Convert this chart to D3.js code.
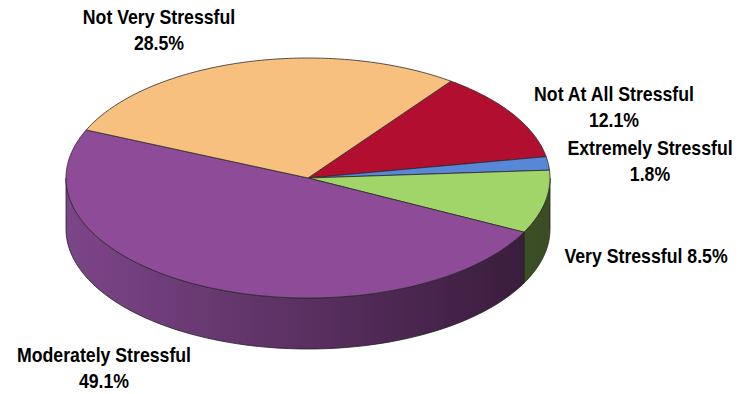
<!DOCTYPE html>
<html><head><meta charset="utf-8">
<script src="https://cdn.jsdelivr.net/npm/d3@7"></script>
<style>body{margin:0;background:#fff}svg{display:block}</style>
</head><body>
<svg id="chart" width="739" height="394"></svg>
<script>
// Data (order clockwise starting at the Not Very / Not At All boundary)
const categories = ["Not At All Stressful", "Extremely Stressful", "Very Stressful", "Moderately Stressful", "Not Very Stressful"];
const values = [12.1, 1.8, 8.5, 49.1, 28.5];
const labelLines = [["Not At All Stressful", "12.1%"], ["Extremely Stressful", "1.8%"], ["Very Stressful 8.5%"], ["Moderately Stressful", "49.1%"], ["Not Very Stressful", "28.5%"]];

const topColors = ["#B20F30", "#5887D8", "#A1D569", "#8E4C98", "#F8C07F"];
const sideLight = ["#7a0a20", "#3b5a92", "#43582A", "#7D4589", "#a9825a"];
const sideDark = ["#5a0718", "#2b4270", "#3A4D24", "#361A38", "#806245"];
const labelPos = [[614, 101], [650, 155], [646, 263], [104, 362], [159, 24]];

const svg = d3.select("#chart");
const cx = 308, cy = 178, rx = 242, ry = 120, depth = 51;
const startAngle = 36.2 * Math.PI / 180;

const pie = d3.pie().sort(null).value(d => d).startAngle(startAngle).endAngle(startAngle + 2 * Math.PI);
const arcs = pie(values);

const px = a => cx + rx * Math.sin(a);
const py = a => cy - ry * Math.cos(a);

const defs = svg.append("defs");
arcs.forEach((d, i) => {
  const g = defs.append("linearGradient").attr("id", "side" + i)
    .attr("gradientUnits", "userSpaceOnUse")
    .attr("x1", cx - rx).attr("x2", cx + rx).attr("y1", 0).attr("y2", 0);
  g.append("stop").attr("offset", "0%").attr("stop-color", sideLight[i]);
  g.append("stop").attr("offset", "100%").attr("stop-color", sideDark[i]);
});

// side walls
const sides = svg.append("g");
arcs.forEach((d, i) => {
  const ranges = [];
  for (let k = -1; k <= 1; k++) {
    const lo = Math.PI / 2 + 2 * Math.PI * k, hi = 3 * Math.PI / 2 + 2 * Math.PI * k;
    const s = Math.max(d.startAngle, lo), e = Math.min(d.endAngle, hi);
    if (e > s) ranges.push([s, e]);
  }
  ranges.forEach(([s, e]) => {
    const n = 80;
    const pts = d3.range(n + 1).map(j => s + (e - s) * j / n);
    let p = "M" + pts.map(a => px(a) + "," + py(a)).join("L");
    p += "L" + pts.slice().reverse().map(a => px(a) + "," + (py(a) + depth)).join("L") + "Z";
    sides.append("path").attr("d", p).attr("fill", `url(#side${i})`)
      .attr("stroke", "#222").attr("stroke-width", 0.8).attr("stroke-linejoin", "round");
  });
});

// top faces
const tops = svg.append("g");
arcs.forEach((d, i) => {
  const n = Math.max(4, Math.ceil((d.endAngle - d.startAngle) * 60));
  const pts = d3.range(n + 1).map(j => d.startAngle + (d.endAngle - d.startAngle) * j / n);
  const p = `M${cx},${cy}L` + pts.map(a => px(a) + "," + py(a)).join("L") + "Z";
  tops.append("path").attr("d", p).attr("fill", topColors[i])
    .attr("stroke", "#2a2a2a").attr("stroke-width", 0.8).attr("stroke-linejoin", "round");
});

// labels (condensed bold, like Arial Narrow)
const lg = svg.append("g").attr("font-family", "'Liberation Sans', Arial, sans-serif")
  .attr("font-weight", "bold").attr("font-size", 20).attr("fill", "#000")
  .attr("text-anchor", "middle");
arcs.forEach((d, i) => {
  const t = lg.append("text")
    .attr("transform", `translate(${labelPos[i][0]},${labelPos[i][1]}) scale(0.885,1)`);
  labelLines[i].forEach((line, j) => {
    t.append("tspan").attr("x", 0).attr("dy", j === 0 ? 0 : 26.5).text(line);
  });
});
</script>
</body></html>
